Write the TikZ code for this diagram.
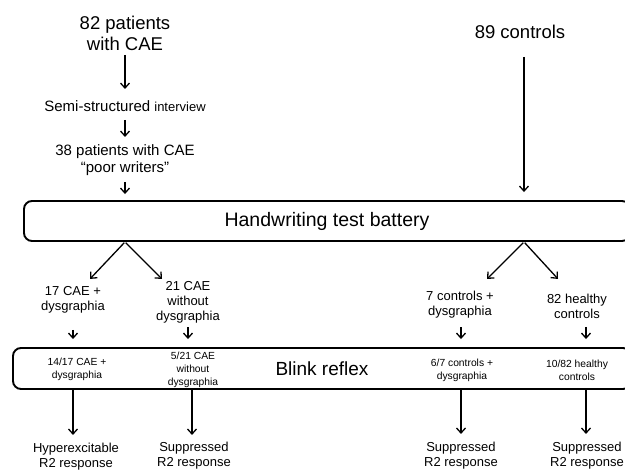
\documentclass[tikz,border=0pt]{standalone}
\usepackage{fontspec}
\setmainfont{Liberation Sans}
\usetikzlibrary{arrows.meta}
\begin{document}
\begin{tikzpicture}[x=1pt,y=-1pt,
  arr/.style={line width=1.3pt,-{Straight Barb[length=5pt,width=9pt,line width=1.3pt]}},
  bigbox/.style={draw,line width=1.9pt,rounded corners=8pt,inner sep=0pt},
  lbl/.style={align=center,inner sep=0pt},
  big/.style={font=\fontsize{18.5}{21}\selectfont},
  med/.style={font=\fontsize{15}{17}\selectfont},
  mid/.style={font=\fontsize{13}{14.8}\selectfont},
  small/.style={font=\fontsize{10.3}{12.8}\selectfont}]
\useasboundingbox (0,0) rectangle (625,470);
\clip (0,0) rectangle (625,470);

% column coordinates
\coordinate (colA) at (73,0);
\coordinate (colB) at (188,0);
\coordinate (colBd) at (192,0);
\coordinate (colC) at (461,0);
\coordinate (colD) at (586,0);
\coordinate (colM) at (125,0);
\coordinate (colR) at (524,0);

% top texts
\node[lbl,big] (p82) at (125,33) {82 patients\\with CAE};
\node[lbl] (semi) at (125,106) {\fontsize{15}{17}\selectfont Semi-structured \fontsize{13}{15}\selectfont interview};
\node[lbl,med] (p38) at (125,160) {38 patients with CAE\\“poor writers”};
\node[lbl,big] (c89) at (520,32) {89 controls};

% handwriting box
\node[bigbox,minimum width=606pt,minimum height=40pt,font=\fontsize{19.5}{22}\selectfont] (hw) at (327,221) {Handwriting test battery};

% arrows on top
\draw[arr,shorten <=22pt,shorten >=17pt] (p82.center) -- (semi.center);
\draw[arr,shorten <=14pt,shorten >=23pt] (semi.center) -- (p38.center);
\draw[arr,shorten <=22pt,shorten >=6pt] (p38.center) -- (p38.center |- hw.north);
\draw[arr,shorten <=18pt,shorten >=8pt] (c89.south -| colR) -- (hw.north -| colR);

% group labels
\node[lbl,mid] (c17) at (73,300) {17 CAE +\\dysgraphia};
\node[lbl,mid] (c21) at (188,302.5) {21 CAE\\without\\dysgraphia};
\node[lbl,mid] (c7) at (460,304.5) {7 controls +\\dysgraphia};
\node[lbl,mid] (c82) at (577,306) {82 healthy\\controls};

% diagonal arrows
\draw[arr,shorten <=1pt] (hw.south -| colM) -- ++(-35,37);
\draw[arr,shorten <=1pt] (hw.south -| colM) -- ++(37,37);
\draw[arr,shorten <=1pt] (hw.south -| colR) -- ++(-37,37);
\draw[arr,shorten <=1pt] (hw.south -| colR) -- ++(34,37);

% blink box
\node[bigbox,minimum width=618pt,minimum height=41pt,font=\fontsize{19}{22}\selectfont] (blink) at (322,368.5) {Blink reflex};

\node[lbl,small] (b14) at (77,369.5) {14/17 CAE +\\dysgraphia};
\node[lbl,small] (b5) at (193,370) {5/21 CAE\\without\\dysgraphia};
\node[lbl,small] (b6) at (462,370) {6/7 controls +\\dysgraphia};
\node[lbl,small] (b10) at (577,370) {10/82 healthy\\controls};

% short arrows into blink box
\draw[arr,shorten <=30pt,shorten >=8pt] (c17 -| colA) -- (blink.north -| colA);
\draw[arr,shorten <=25pt,shorten >=8pt] (c21 -| colB) -- (blink.north -| colB);
\draw[arr,shorten <=23pt,shorten >=8pt] (c7 -| colC) -- (blink.north -| colC);
\draw[arr,shorten <=21pt,shorten >=8pt] (c82 -| colD) -- (blink.north -| colD);

% results
\node[lbl,mid] (r1) at (76,457) {Hyperexcitable\\R2 response};
\node[lbl,mid] (r2) at (194,455.5) {Suppressed\\R2 response};
\node[lbl,mid] (r3) at (461,456) {Suppressed\\R2 response};
\node[lbl,mid] (r4) at (587,456) {Suppressed\\R2 response};

\draw[arr] (blink.south -| colA) -- ++(0,45);
\draw[arr] (blink.south -| colBd) -- ++(0,45);
\draw[arr] (blink.south -| colC) -- ++(0,44);
\draw[arr] (blink.south -| colD) -- ++(0,44);
\end{tikzpicture}
\end{document}
